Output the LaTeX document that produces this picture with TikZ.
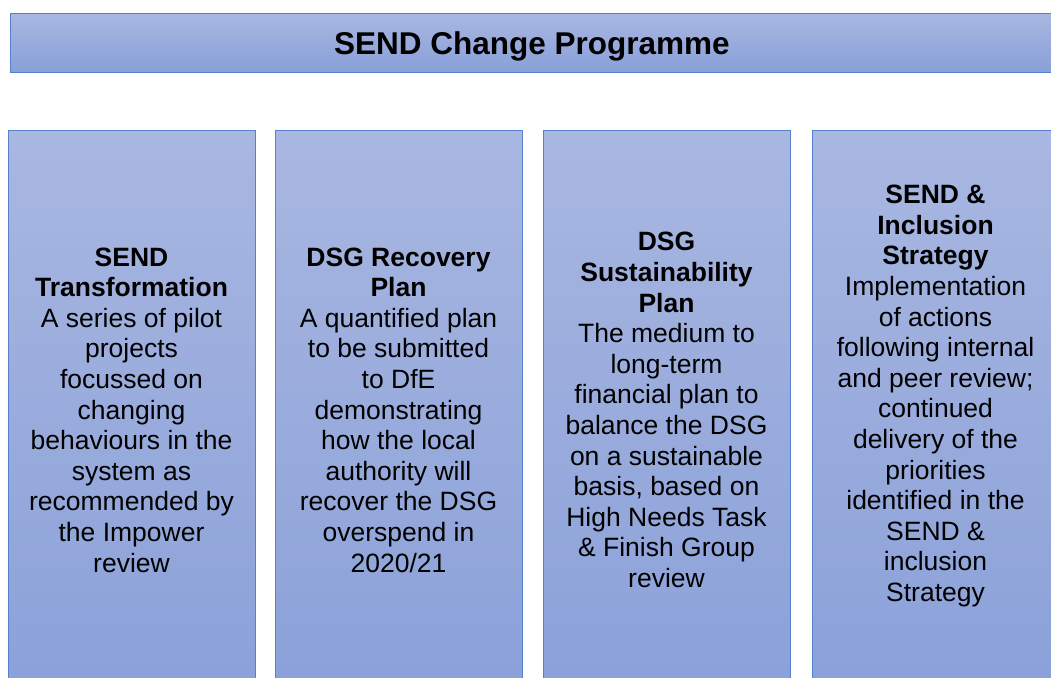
\documentclass[tikz,border=0pt]{standalone}
\usepackage{fontspec}
\setmainfont{Liberation Sans}
\definecolor{boxtop}{HTML}{A9B7E1}
\definecolor{boxbot}{HTML}{889FD8}
\definecolor{boxline}{HTML}{5580CC}
\tikzset{
  panel/.style={draw=boxline, line width=1.4pt, top color=boxtop, bottom color=boxbot,
    inner sep=0pt, anchor=north west},
  bodytext/.style={align=center, inner sep=0pt, text=black,
    font=\fontsize{26.5}{30.6}\selectfont},
  titletext/.style={inner sep=0pt, text=black,
    font=\fontsize{31.5}{36}\selectfont\bfseries},
}
\begin{document}
\begin{tikzpicture}[x=1pt,y=-1pt]
  \clip (0,0) rectangle (1051,677);
  \useasboundingbox (0,0) rectangle (1051,677);
  \fill[white] (0,0) rectangle (1051,677);

  % header bar
  \node[panel, minimum width=1044pt, minimum height=59pt] (head) at (10,13) {};
  \node[titletext] (headtxt) at (532,46) {SEND Change Programme};

  % the four workstream columns
  \node[panel, minimum width=247pt, minimum height=600pt] (c1) at (8,130) {};
  \node[panel, minimum width=247pt, minimum height=600pt] (c2) at (275,130) {};
  \node[panel, minimum width=247pt, minimum height=600pt] (c3) at (543,130) {};
  \node[panel, minimum width=247pt, minimum height=600pt] (c4) at (812,130) {};

  \node[bodytext] (t1) at (131.5,410) {\textbf{SEND}\\\textbf{Transformation}\\
    A series of pilot\\projects\\focussed on\\changing\\behaviours in the\\system as\\
    recommended by\\the Impower\\review};
  \node[bodytext] (t2) at (398.5,410) {\textbf{DSG Recovery}\\\textbf{Plan}\\
    A quantified plan\\to be submitted\\to DfE\\demonstrating\\how the local\\
    authority will\\recover the DSG\\overspend in\\2020/21};
  \node[bodytext] (t3) at (666.5,410) {\textbf{DSG}\\\textbf{Sustainability}\\\textbf{Plan}\\
    The medium to\\long-term\\financial plan to\\balance the DSG\\on a sustainable\\
    basis, based on\\High Needs Task\\\& Finish Group\\review};
  \node[bodytext] (t4) at (935.5,396) {\textbf{SEND \&}\\\textbf{Inclusion}\\\textbf{Strategy}\\
    Implementation\\of actions\\following internal\\and peer review;\\continued\\
    delivery of the\\priorities\\identified in the\\SEND \&\\inclusion\\Strategy};
\end{tikzpicture}
\end{document}
